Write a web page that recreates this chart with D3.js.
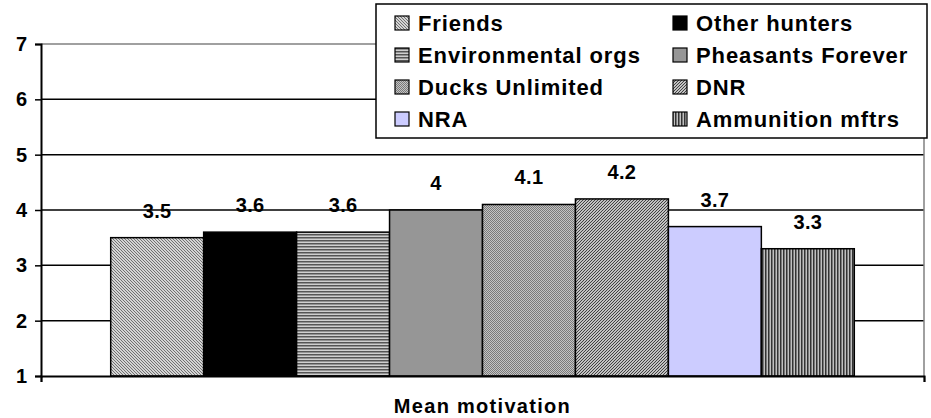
<!DOCTYPE html>
<html>
<head>
<meta charset="utf-8">
<script src="https://cdn.jsdelivr.net/npm/d3@7"></script>
<style>
  html, body { margin: 0; padding: 0; background: #fff; }
  svg { display: block; font-family: "Liberation Sans", Arial, sans-serif; font-weight: bold; }
</style>
</head>
<body>
<svg id="chart" width="931" height="418"></svg>
<script>
// ---- data ----
const categories = ["Friends", "Other hunters", "Environmental orgs", "Pheasants Forever",
                    "Ducks Unlimited", "DNR", "NRA", "Ammunition mftrs"];
const values = [3.5, 3.6, 3.6, 4, 4.1, 4.2, 3.7, 3.3];
const valueLabels = ["3.5", "3.6", "3.6", "4", "4.1", "4.2", "3.7", "3.3"];
const yTicks = [1, 2, 3, 4, 5, 6, 7];
const xAxisTitle = "Mean motivation";
const fills = ["url(#pFriends)", "#000000", "url(#pEnv)", "#969696",
               "url(#pDucks)", "url(#pDNR)", "#CCCCFF", "url(#pAmmo)"];

// ---- layout ----
const svg = d3.select("#chart");
const plot = { left: 41, right: 924, top: 44, bottom: 376 };

// patterns
const defs = svg.append("defs");
function pat(id, w, h, draw) {
  const p = defs.append("pattern").attr("id", id).attr("patternUnits", "userSpaceOnUse")
    .attr("width", w).attr("height", h);
  draw(p);
}
pat("pFriends", 3, 3, p => {
  p.append("rect").attr("width", 3).attr("height", 3).attr("fill", "#ffffff");
  p.append("path").attr("d", "M-1,-1 L4,4 M2,-1 L4,1 M-1,2 L1,4").attr("stroke", "#6a6a6a").attr("stroke-width", 1.1);
});
pat("pEnv", 4, 3, p => {
  p.append("rect").attr("width", 4).attr("height", 3).attr("fill", "#cfcfcf");
  p.append("rect").attr("y", 0).attr("width", 4).attr("height", 1.5).attr("fill", "#555");
});
pat("pDucks", 2, 2, p => {
  p.append("rect").attr("width", 2).attr("height", 2).attr("fill", "#c4c4c4");
  p.append("rect").attr("width", 1).attr("height", 1).attr("fill", "#7a7a7a");
  p.append("rect").attr("x", 1).attr("y", 1).attr("width", 1).attr("height", 1).attr("fill", "#7a7a7a");
});
pat("pDNR", 3, 3, p => {
  p.append("rect").attr("width", 3).attr("height", 3).attr("fill", "#ffffff");
  p.append("path").attr("d", "M-1,4 L4,-1 M-1,1 L1,-1 M2,4 L4,2").attr("stroke", "#3a3a3a").attr("stroke-width", 1.2);
});
pat("pAmmo", 3, 4, p => {
  p.append("rect").attr("width", 3).attr("height", 4).attr("fill", "#c0c0c0");
  p.append("rect").attr("width", 1.5).attr("height", 4).attr("fill", "#333");
});

// scales
const n = categories.length;
const bw = (plot.right - plot.left) / (n + 1.5);
const x = d3.scaleBand().domain(categories)
  .range([plot.left + 0.75 * bw, plot.right - 0.75 * bw]).paddingInner(0).paddingOuter(0);
const y = d3.scaleLinear().domain([1, 7]).range([plot.bottom, plot.top]);

// gridlines
svg.append("g").selectAll("line").data(yTicks.filter(t => t > 1)).join("line")
  .attr("x1", plot.left).attr("x2", plot.right)
  .attr("y1", d => y(d)).attr("y2", d => y(d))
  .attr("stroke", d => d === 7 ? "#808080" : "#000").attr("stroke-width", 1.5);

// plot right border
svg.append("line").attr("x1", plot.right).attr("x2", plot.right)
  .attr("y1", plot.top).attr("y2", plot.bottom).attr("stroke", "#808080").attr("stroke-width", 1.5);

// bars
svg.append("g").selectAll("rect").data(values).join("rect")
  .attr("x", (d, i) => x(categories[i]))
  .attr("y", d => y(d))
  .attr("width", x.bandwidth())
  .attr("height", d => y(1) - y(d))
  .attr("fill", (d, i) => fills[i])
  .attr("stroke", "#000").attr("stroke-width", 1.5);

// y axis
const yAxis = d3.axisLeft(y).tickValues(yTicks).tickSize(6).tickPadding(8).tickFormat(d3.format("d"));
const gy = svg.append("g").attr("transform", `translate(${plot.left},0)`).call(yAxis);
gy.select(".domain").attr("stroke", "#000").attr("stroke-width", 2);
gy.selectAll(".tick line").attr("stroke", "#000").attr("stroke-width", 1.5);
gy.selectAll(".tick text").attr("font-size", 20).attr("font-weight", "bold")
  .attr("font-family", "Liberation Sans, Arial, sans-serif").attr("fill", "#000");

// x axis line with end ticks
const xAxisScale = d3.scaleLinear().domain([0, 1]).range([plot.left, plot.right]);
const xAxis = d3.axisBottom(xAxisScale).tickValues([0, 1]).tickSize(6).tickFormat("");
const gx = svg.append("g").attr("transform", `translate(0,${plot.bottom})`).call(xAxis);
gx.select(".domain").attr("stroke", "#000").attr("stroke-width", 2);
gx.selectAll(".tick line").attr("stroke", "#000").attr("stroke-width", 1.5);

// value labels
svg.append("g").selectAll("text").data(values).join("text")
  .attr("x", (d, i) => x(categories[i]) + x.bandwidth() / 2)
  .attr("y", d => y(d) - 20)
  .attr("text-anchor", "middle")
  .attr("font-size", 20)
  .attr("letter-spacing", 0.3)
  .attr("fill", "#000")
  .text((d, i) => valueLabels[i]);

// axis title
svg.append("text")
  .attr("x", (plot.left + plot.right) / 2).attr("y", 413)
  .attr("text-anchor", "middle").attr("font-size", 20).attr("letter-spacing", 1.3)
  .text(xAxisTitle);

// legend
const lg = svg.append("g");
lg.append("rect").attr("x", 376).attr("y", 4).attr("width", 551).attr("height", 134)
  .attr("fill", "#fff").attr("stroke", "#000").attr("stroke-width", 1.5);
const colX = [395, 673];
const rowY = [23, 55, 87, 119];
categories.forEach((c, i) => {
  const cx = colX[i % 2], cy = rowY[Math.floor(i / 2)];
  lg.append("rect").attr("x", cx).attr("y", cy - 7).attr("width", 14).attr("height", 14)
    .attr("fill", fills[i]).attr("stroke", "#000").attr("stroke-width", 1.2);
  lg.append("text").attr("x", cx + 23).attr("y", cy + 7.5)
    .attr("font-size", 22).attr("letter-spacing", 0.9).attr("fill", "#000").text(c);
});
</script>
</body>
</html>
